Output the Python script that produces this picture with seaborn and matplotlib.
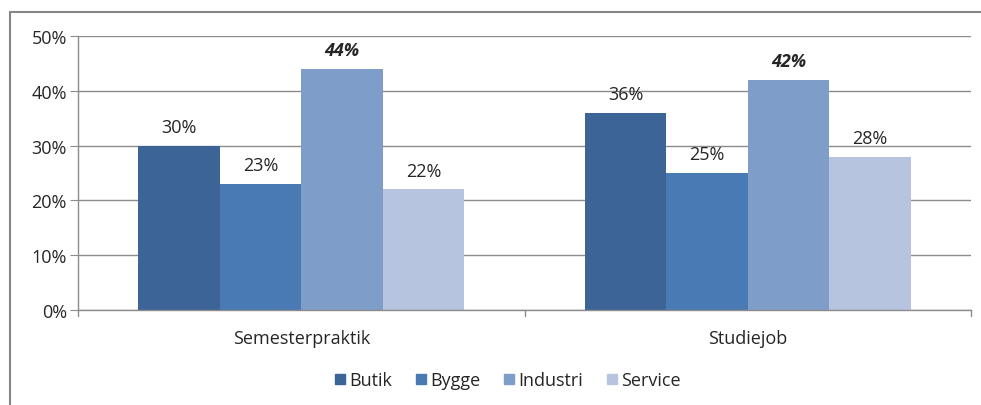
import matplotlib
matplotlib.use('Agg')

import pandas as pd
import seaborn as sns
from matplotlib import pyplot as plt
from matplotlib.lines import Line2D

groups = ['Semesterpraktik', 'Studiejob']
series = ['Butik', 'Bygge', 'Industri', 'Service']
butik = [30, 36]
bygge = [23, 25]
industri = [44, 42]
service = [22, 28]
colors = ['#3C6497', '#4A7AB4', '#7F9DC9', '#B7C4DF']

rows = []
for name, vals in zip(series, [butik, bygge, industri, service]):
    for g, v in zip(groups, vals):
        rows.append({'group': g, 'serie': name, 'value': v})
df = pd.DataFrame(rows)

sns.set_style('white')
plt.rcParams['font.family'] = ['Open Sans', 'DejaVu Sans']
fs = 13

fig = plt.figure(figsize=(9.81, 4.06), dpi=100)
ax = fig.add_axes([78 / 981, 1 - 311 / 406, 893 / 981, 274 / 406])

sns.barplot(data=df, x='group', y='value', hue='serie', palette=colors,
            width=0.73, gap=0, saturation=1, ax=ax, legend=False,
            linewidth=0, edgecolor='none')

ax.set_ylim(0, 50)
ax.set_xlim(-0.5, 1.5)
ax.set_yticks(range(0, 51, 10))
ax.set_yticklabels([f'{t}%' for t in range(0, 51, 10)], fontsize=fs)
ax.set_xticks([0, 1])
ax.set_xticklabels(groups, fontsize=fs)
ax.set_xlabel('')
ax.set_ylabel('')
ax.yaxis.grid(True, color='#8c8c8c', linewidth=1)
ax.set_axisbelow(True)
for s in ['top', 'right']:
    ax.spines[s].set_visible(False)
for s in ['left', 'bottom']:
    ax.spines[s].set_color('#8c8c8c')
    ax.spines[s].set_linewidth(1)
ax.tick_params(axis='y', length=6, color='#8c8c8c', left=True, pad=2)
ax.tick_params(axis='x', length=0, pad=14)
# category separators on the x axis
for xv in [-0.5, 0.5, 1.5]:
    ax.plot([xv, xv], [0, -0.022], transform=ax.get_xaxis_transform(),
            color='#8c8c8c', lw=1, clip_on=False)

for i, cont in enumerate(ax.containers):
    if series[i] == 'Industri':
        ax.bar_label(cont, fmt='%d%%', padding=7, fontsize=fs,
                     fontweight='bold', fontstyle='italic')
    else:
        ax.bar_label(cont, fmt='%d%%', padding=7, fontsize=fs)

handles = [Line2D([], [], marker='s', linestyle='', markersize=7,
                  markerfacecolor=c, markeredgecolor=c) for c in colors]
fig.legend(handles, series, loc='center', bbox_to_anchor=(506 / 981, 1 - 381 / 406),
           ncol=4, frameon=False, fontsize=fs, handletextpad=0.0,
           columnspacing=1.1, handlelength=1)

# outer chart frame
fig.add_artist(Line2D([10 / 981, 10 / 981], [0, 1 - 13 / 406], color='#868686', lw=1.5))
fig.add_artist(Line2D([10 / 981, 1], [1 - 13 / 406, 1 - 13 / 406], color='#868686', lw=1.5))

fig.savefig('out.png', dpi=100)
